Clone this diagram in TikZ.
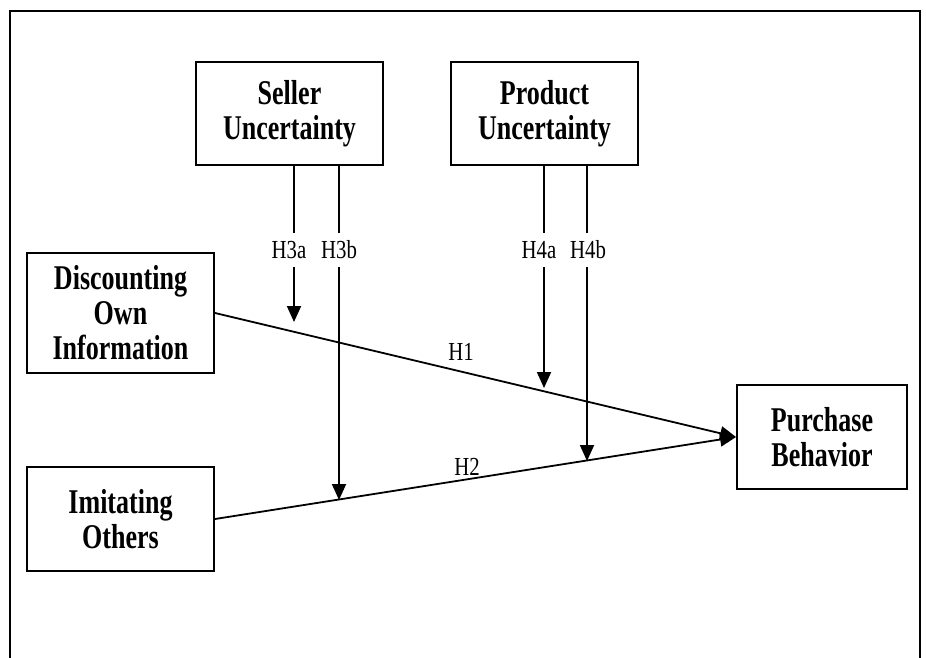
\documentclass[tikz,border=0pt]{standalone}
\usepackage{fontspec}
\usetikzlibrary{arrows.meta}
\newfontfamily\boxfont[FakeStretch=0.75]{Liberation Serif}
\newfontfamily\labfont[FakeStretch=0.8]{Liberation Serif}
\tikzset{
  box/.style={draw, line width=2pt, align=center, inner sep=0pt,
    font=\boxfont\bfseries\fontsize{34.7}{35}\selectfont},
  lab/.style={inner sep=0pt, font=\labfont\fontsize{26}{26}\selectfont},
  conn/.style={line width=1.8pt},
  arr/.style={conn, -{Triangle[width=14pt,length=16pt]}},
  frame/.style={line width=2.5pt}
}
\begin{document}
\begin{tikzpicture}[x=1pt,y=-1pt]
\useasboundingbox (0,0) rectangle (926,657);
% outer frame (left, top, right)
\coordinate (fbl) at (10,660);
\coordinate (ftl) at (10,11);
\coordinate (ftr) at (920,11);
\coordinate (fbr) at (920,660);
\draw[frame] (fbl) -- (ftl) -- (ftr) -- (fbr);

% boxes
\node[box, minimum width=187pt, minimum height=103pt] (su) at (289.5,113.5) {Seller\\Uncertainty};
\node[box, minimum width=187pt, minimum height=103pt] (pu) at (544.5,113.5) {Product\\Uncertainty};
\node[box, minimum width=187pt, minimum height=120pt] (doi) at (120.5,313) {Discounting\\Own\\Information};
\node[box, minimum width=187pt, minimum height=104pt] (io) at (120.5,519) {Imitating\\Others};
\node[box, minimum width=170pt, minimum height=104pt] (pb) at (822,437) {Purchase\\Behavior};

% main paths
\draw[arr] (doi.east) -- (pb.west);
\draw[arr] (io.east) -- (pb.west);
\node[lab] (h1) at (461,352) {H1};
\node[lab] (h2) at (467,467) {H2};

% moderator labels
\node[lab, minimum height=34pt] (h3a) at (289,250) {H3a};
\node[lab, minimum height=34pt] (h3b) at (339,250) {H3b};
\node[lab, minimum height=34pt] (h4a) at (539,250) {H4a};
\node[lab, minimum height=34pt] (h4b) at (588,250) {H4b};

% arrow targets
\coordinate (t3a) at (294,322);
\coordinate (t3b) at (339,500);
\coordinate (t4a) at (544,388);
\coordinate (t4b) at (587,461);

\draw[conn] (su.south -| t3a) -- (h3a.north -| t3a);
\draw[arr] (h3a.south -| t3a) -- (t3a);
\draw[conn] (su.south -| t3b) -- (h3b.north -| t3b);
\draw[arr] (h3b.south -| t3b) -- (t3b);
\draw[conn] (pu.south -| t4a) -- (h4a.north -| t4a);
\draw[arr] (h4a.south -| t4a) -- (t4a);
\draw[conn] (pu.south -| t4b) -- (h4b.north -| t4b);
\draw[arr] (h4b.south -| t4b) -- (t4b);
\end{tikzpicture}
\end{document}
